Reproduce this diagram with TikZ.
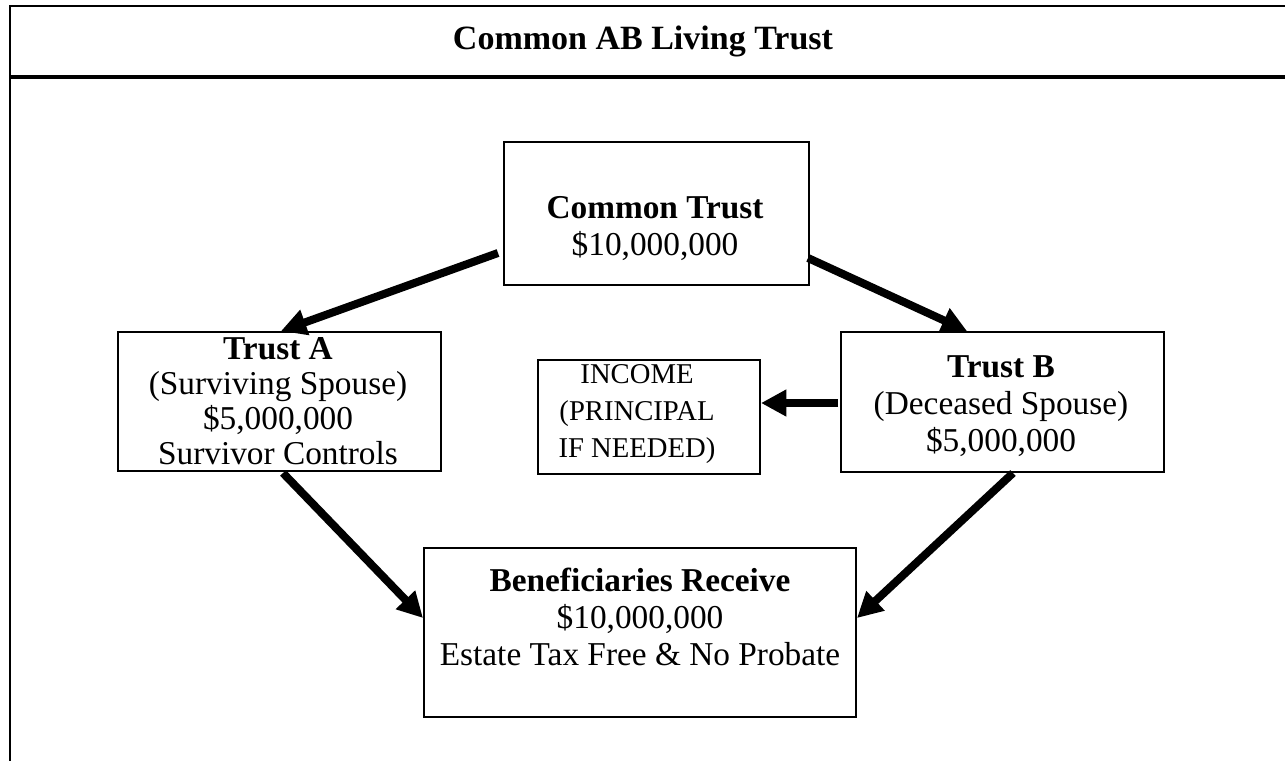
\documentclass[tikz,border=0pt]{standalone}
\usepackage{fontspec}
\setmainfont{Liberation Serif}
\usetikzlibrary{arrows.meta}
\begin{document}
\begin{tikzpicture}[x=0.75pt,y=-0.75pt,
  box/.style={draw, line width=1.5pt, inner sep=0pt, anchor=north west},
  sz/.style 2 args={minimum width=#1*0.75pt, minimum height=#2*0.75pt},
  txt/.style={align=center, font=\fontsize{25}{27.75}\selectfont, inner sep=0pt},
  arr/.style={line width=6pt, -{Triangle[length=19pt,width=19pt]}}]
\useasboundingbox (0,0) rectangle (1285,761);
% frame
\draw[line width=1.6pt] (1285,6) -- (10,6) -- (10,761);
\draw[line width=3pt] (10,77) -- (1285,77);
\node[txt, font=\fontsize{25.5}{30}\selectfont\bfseries] (title) at (643,41) {Common AB Living Trust};
% boxes
\node[box, sz={305}{143}] (ct) at (503,141) {};
\node[box, sz={323}{139}] (ta) at (117,331) {};
\node[box, sz={323}{140}] (tb) at (840,331) {};
\node[box, sz={222}{114}] (inc) at (537,359) {};
\node[box, sz={432}{169}] (ben) at (423,547) {};
% texts
\node[txt, font=\fontsize{25}{26.25}\selectfont] (tat) at (278,401) {\textbf{Trust A}\\(Surviving Spouse)\\\$5,000,000\\Survivor Controls};
\node[txt] (ctt) at (655,229) {\textbf{Common Trust}\\\$10,000,000};
\node[txt] (tbt) at (1001,406) {\textbf{Trust B}\\(Deceased Spouse)\\\$5,000,000};
\node[txt, font=\fontsize{21.5}{27.75}\selectfont] (inct) at (637,414) {INCOME\\(PRINCIPAL\\IF NEEDED)};
\node[txt] (bent) at (640,617) {\textbf{Beneficiaries Receive}\\\$10,000,000\\Estate Tax Free \& No Probate};
% arrow endpoints
\coordinate (a1s) at (498,253);
\coordinate (a1e) at (281,331);
\coordinate (a2s) at (808,258);
\coordinate (a2e) at (967,331);
\coordinate (a3s) at (838,403);
\coordinate (a3e) at (761,403);
\coordinate (a4s) at (283,473);
\coordinate (a4e) at (423,618);
\coordinate (a5s) at (1013,473);
\coordinate (a5e) at (857,618);
\draw[arr] (a1s) -- (a1e);
\draw[arr] (a2s) -- (a2e);
\draw[arr] (a3s) -- (a3e);
\draw[arr] (a4s) -- (a4e);
\draw[arr] (a5s) -- (a5e);
\end{tikzpicture}
\end{document}
